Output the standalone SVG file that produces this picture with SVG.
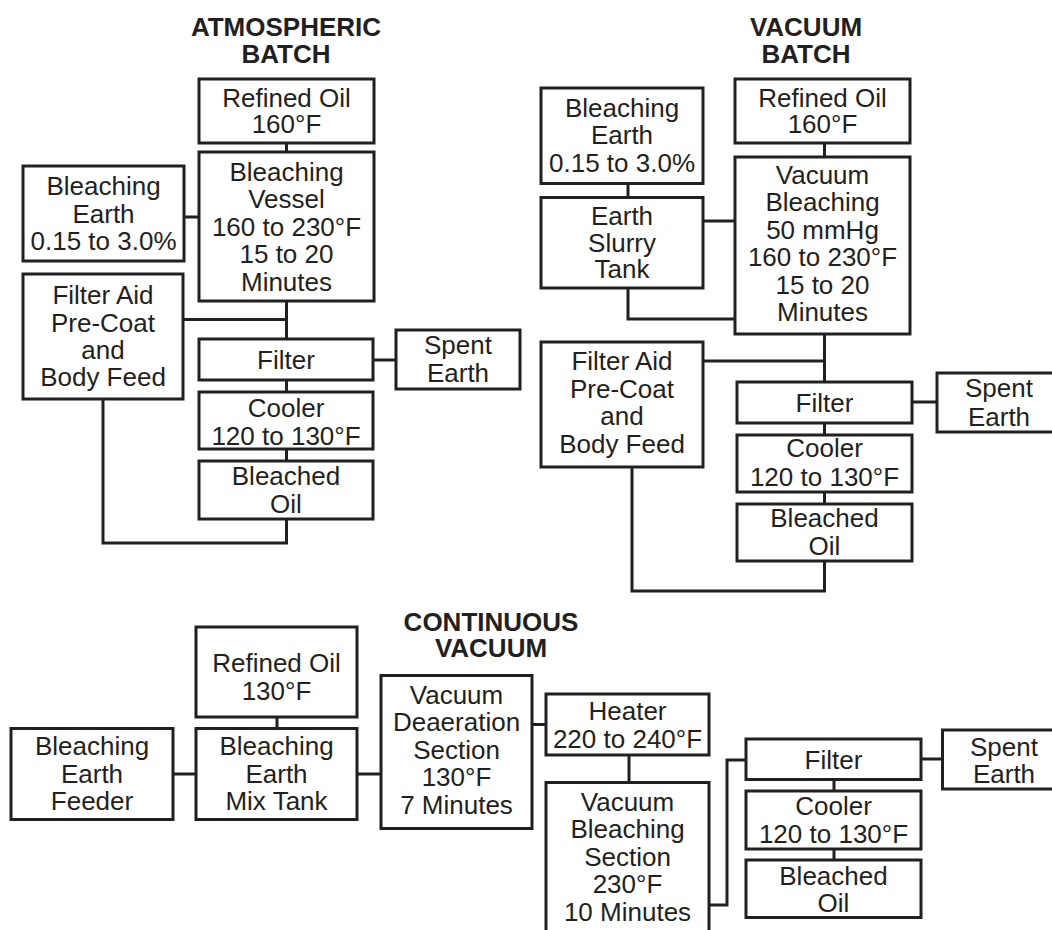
<svg xmlns="http://www.w3.org/2000/svg" width="1052" height="930" viewBox="0 0 1052 930">
<style>
.b{fill:#fff;stroke:#231f20;stroke-width:3}
.c{fill:none;stroke:#231f20;stroke-width:3}
text{font-family:"Liberation Sans",Arial,sans-serif;font-size:26px;fill:#231f20;text-anchor:middle}
.t{font-weight:bold}
</style>
<rect width="1052" height="930" fill="#fff"/>
<g id="connectors">
<path class="c" d="M286.5,143V152M286.5,301V339M286.5,380V392M286.5,449V461M184,217H199M183,319.5H286.5M373,360H396M103,399V543H286.5V519"/>
<path class="c" d="M824.5,143V157M824.5,334V382M824.5,423V435M824.5,492V504M628,183.5V197.5M703,221H735M628,288V319H735M703,361H824.5M912,402H937M632,467V591H824.5V561"/>
<path class="c" d="M277,717V728.5M173,774H196M357,774H381M532,724.5H546M629,755V782.5M709,905H727V760H746M921,759H942.5M834,779.5V791M834,849V860"/>
</g>
<g id="titles">
<text class="t" x="286" y="36">ATMOSPHERIC</text>
<text class="t" x="286" y="63.3">BATCH</text>
<text class="t" x="806" y="36">VACUUM</text>
<text class="t" x="806" y="63.3">BATCH</text>
<text class="t" x="491" y="630.7">CONTINUOUS</text>
<text class="t" x="491" y="657.3">VACUUM</text>
</g>
<g id="a-refined"><rect class="b" x="199" y="79" width="175" height="64"/><text x="286.5" y="106.7">Refined Oil</text><text x="286.5" y="133.3">160°F</text></g>
<g id="a-vessel"><rect class="b" x="199" y="152" width="175" height="149"/><text x="286.5" y="180.5">Bleaching</text><text x="286.5" y="208">Vessel</text><text x="286.5" y="235.5">160 to 230°F</text><text x="286.5" y="263">15 to 20</text><text x="286.5" y="290.5">Minutes</text></g>
<g id="a-earth"><rect class="b" x="23" y="166" width="161" height="95"/><text x="103.5" y="195">Bleaching</text><text x="103.5" y="222.5">Earth</text><text x="103.5" y="250">0.15 to 3.0%</text></g>
<g id="a-filteraid"><rect class="b" x="23" y="274" width="160" height="125"/><text x="103" y="304">Filter Aid</text><text x="103" y="331.5">Pre-Coat</text><text x="103" y="358.5">and</text><text x="103" y="386">Body Feed</text></g>
<g id="a-filter"><rect class="b" x="199" y="339" width="174" height="41"/><text x="286" y="369">Filter</text></g>
<g id="a-spent"><rect class="b" x="396" y="330" width="124" height="59"/><text x="458" y="353.5">Spent</text><text x="458" y="381.5">Earth</text></g>
<g id="a-cooler"><rect class="b" x="199" y="392" width="174" height="57"/><text x="286" y="416.7">Cooler</text><text x="286" y="445">120 to 130°F</text></g>
<g id="a-bleached"><rect class="b" x="199" y="461" width="174" height="58"/><text x="286" y="485">Bleached</text><text x="286" y="512.7">Oil</text></g>

<g id="v-refined"><rect class="b" x="735" y="79" width="175" height="64"/><text x="822.5" y="106.5">Refined Oil</text><text x="822.5" y="133.3">160°F</text></g>
<g id="v-earth"><rect class="b" x="541" y="88" width="162" height="95.5"/><text x="622" y="116.7">Bleaching</text><text x="622" y="144">Earth</text><text x="622" y="171.7">0.15 to 3.0%</text></g>
<g id="v-slurry"><rect class="b" x="541" y="197.5" width="162" height="90.5"/><text x="622" y="225">Earth</text><text x="622" y="251.7">Slurry</text><text x="622" y="278.3">Tank</text></g>
<g id="v-bleach"><rect class="b" x="735" y="157" width="175" height="177"/><text x="822.5" y="183.5">Vacuum</text><text x="822.5" y="211">Bleaching</text><text x="822.5" y="238.5">50 mmHg</text><text x="822.5" y="266">160 to 230°F</text><text x="822.5" y="293.5">15 to 20</text><text x="822.5" y="321">Minutes</text></g>
<g id="v-filteraid"><rect class="b" x="541" y="342" width="162" height="125"/><text x="622" y="370">Filter Aid</text><text x="622" y="397.7">Pre-Coat</text><text x="622" y="425">and</text><text x="622" y="452.7">Body Feed</text></g>
<g id="v-filter"><rect class="b" x="737" y="382" width="175" height="41"/><text x="824.5" y="411.7">Filter</text></g>
<g id="v-spent"><rect class="b" x="937" y="373" width="124" height="59"/><text x="999" y="397">Spent</text><text x="999" y="425.5">Earth</text></g>
<g id="v-cooler"><rect class="b" x="737" y="435" width="175" height="57"/><text x="824.5" y="457.3">Cooler</text><text x="824.5" y="485.7">120 to 130°F</text></g>
<g id="v-bleached"><rect class="b" x="737" y="504" width="175" height="57"/><text x="824.5" y="526.7">Bleached</text><text x="824.5" y="555">Oil</text></g>

<g id="c-refined"><rect class="b" x="196" y="627" width="161" height="90"/><text x="276.5" y="671.7">Refined Oil</text><text x="276.5" y="700">130°F</text></g>
<g id="c-feeder"><rect class="b" x="11" y="728.5" width="162" height="91"/><text x="92" y="755">Bleaching</text><text x="92" y="782.7">Earth</text><text x="92" y="810">Feeder</text></g>
<g id="c-mix"><rect class="b" x="196" y="728.5" width="161" height="91"/><text x="276.5" y="755">Bleaching</text><text x="276.5" y="782.7">Earth</text><text x="276.5" y="810">Mix Tank</text></g>
<g id="c-deaer"><rect class="b" x="381" y="675.5" width="151" height="153"/><text x="456.5" y="703.5">Vacuum</text><text x="456.5" y="731">Deaeration</text><text x="456.5" y="758.5">Section</text><text x="456.5" y="786">130°F</text><text x="456.5" y="813.5">7 Minutes</text></g>
<g id="c-heater"><rect class="b" x="546" y="694" width="163" height="61"/><text x="627.5" y="720">Heater</text><text x="627.5" y="748.3">220 to 240°F</text></g>
<g id="c-vbs"><rect class="b" x="546" y="782.5" width="163" height="170"/><text x="627.5" y="810.5">Vacuum</text><text x="627.5" y="838">Bleaching</text><text x="627.5" y="865.5">Section</text><text x="627.5" y="893">230°F</text><text x="627.5" y="920.5">10 Minutes</text></g>
<g id="c-filter"><rect class="b" x="746" y="739" width="175" height="40.5"/><text x="833.5" y="769">Filter</text></g>
<g id="c-spent"><rect class="b" x="942.5" y="730" width="124" height="59"/><text x="1004" y="755.5">Spent</text><text x="1004" y="783">Earth</text></g>
<g id="c-cooler"><rect class="b" x="746" y="791" width="175" height="58"/><text x="833.5" y="815">Cooler</text><text x="833.5" y="842.7">120 to 130°F</text></g>
<g id="c-bleached"><rect class="b" x="746" y="860" width="175" height="57.5"/><text x="833.5" y="885">Bleached</text><text x="833.5" y="912.3">Oil</text></g>
</svg>
